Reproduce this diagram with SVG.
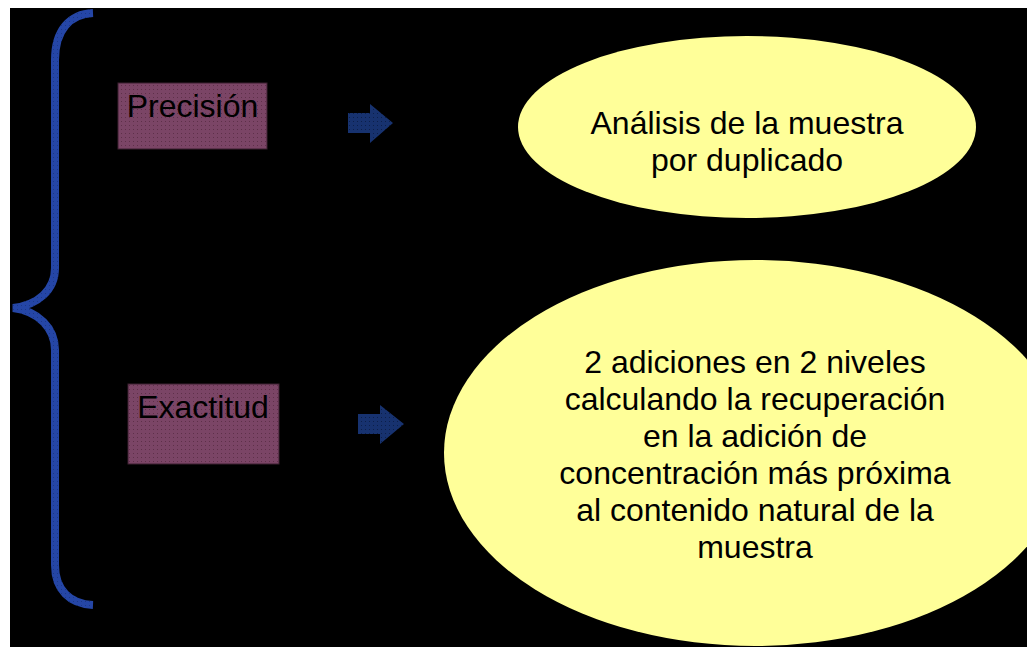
<svg xmlns="http://www.w3.org/2000/svg" width="1027" height="647" viewBox="0 0 1027 647">
  <defs>
    <pattern id="dotsMauve" width="4" height="4" patternUnits="userSpaceOnUse">
      <rect width="4" height="4" fill="#7b4566"/>
      <rect x="1" y="1" width="1" height="1" fill="#5e3049"/>
    </pattern>
    <pattern id="dotsBlue" width="4" height="4" patternUnits="userSpaceOnUse">
      <rect width="4" height="4" fill="#17326f"/>
      <rect x="1" y="1" width="1" height="1" fill="#0c1f4a"/>
    </pattern>
    <pattern id="dotsBrace" width="4" height="4" patternUnits="userSpaceOnUse">
      <rect width="4" height="4" fill="#2546a6"/>
      <rect x="1" y="1" width="1" height="1" fill="#1b3786"/>
    </pattern>
  </defs>
  <style>
    .lbl { font-family: "Liberation Sans", Arial, sans-serif; font-size: 32px; fill: #000; text-anchor: middle; }
    .box { fill: url(#dotsMauve); stroke: #3c2030; stroke-width: 1; }
    .oval { fill: #ffff99; }
    .arrow { fill: url(#dotsBlue); }
    .brace { fill: none; stroke: url(#dotsBrace); stroke-width: 8; stroke-linecap: butt; }
  </style>
  <rect width="1027" height="647" fill="#ffffff"/>
  <rect x="10" y="8" width="1017" height="639" fill="#000000"/>

  <g id="brace">
    <path class="brace" d="M 93 13 C 70 14, 55 30, 55 60 L 55 268 C 55 290, 38 305, 13 308 C 38 311, 55 328, 55 350 L 55 565 C 55 590, 70 604, 93 605"/>
  </g>

  <g id="node-precision">
    <rect class="box" x="118" y="83" width="149" height="66"/>
    <text class="lbl" x="192.5" y="117">Precisión</text>
  </g>

  <g id="node-exactitud">
    <rect class="box" x="128" y="384" width="151" height="80"/>
    <text class="lbl" x="203" y="418">Exactitud</text>
  </g>

  <g id="node-duplicado">
    <ellipse class="oval" cx="747" cy="127" rx="229" ry="91"/>
    <text class="lbl" x="747" y="134">Análisis de la muestra</text>
    <text class="lbl" x="747" y="171">por duplicado</text>
  </g>

  <g id="node-adiciones">
    <ellipse class="oval" cx="755" cy="453" rx="311" ry="193"/>
    <text class="lbl" x="755" y="373">2 adiciones en 2 niveles</text>
    <text class="lbl" x="755" y="410">calculando la recuperación</text>
    <text class="lbl" x="755" y="447">en la adición de</text>
    <text class="lbl" x="755" y="484">concentración más próxima</text>
    <text class="lbl" x="755" y="521">al contenido natural de la</text>
    <text class="lbl" x="755" y="558">muestra</text>
  </g>

  <g id="connectors">
    <polygon class="arrow" points="348,113 370,113 370,104 393,123 370,143 370,133 348,133"/>
    <polygon class="arrow" points="358,414 380,414 380,405 404,424 380,444 380,434 358,434"/>
  </g>
</svg>
